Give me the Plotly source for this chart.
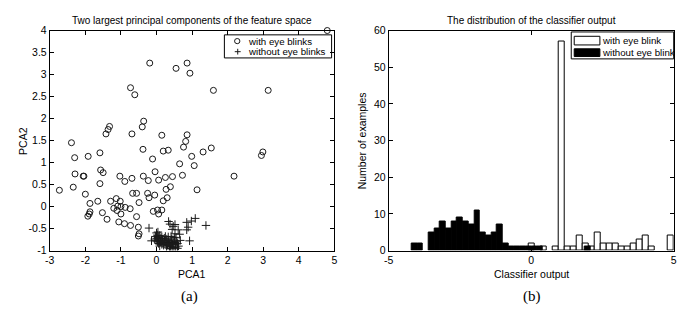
import plotly.graph_objects as go

# ---------------- data: PCA scatter ----------------
with_blink_x = [4.80, -0.19, 0.55, 0.86, 0.94, -0.73, -0.61, 1.60, 3.14, -0.36, -0.40, -1.32, -1.36,
                -1.42, -2.39, -0.69, 0.15, 0.86, 0.82, 0.76, -0.38, 0.19, 0.33, 0.99, 1.31, 1.54, 2.99,
                2.95, -2.30, -1.92, -1.59, -0.11,
                0.65, 1.06, 2.18, -2.29, -2.06, -2.04, -1.57, -1.50, -1.59, -1.03, -0.89, -0.69, -0.37,
                -0.23, -0.04, 0.06, 0.25, 0.45, 0.73, -2.73, -2.34, -2.00, 0.39, 0.27, 1.14, -0.67,
                -0.56, -0.25, -0.21, -0.05, 0.19, 0.30, -1.87, -1.65, -1.29, -1.13, -1.02, -0.49, -1.20,
                -1.09, -1.00, -0.88, -0.74, -1.11, -1.00, -1.87, -1.89, -1.93, -1.52, -1.39, -1.06,
                -0.90, -0.73, -0.56, -0.51, -0.49, -0.51, -0.09, 0.03, 0.06, 0.15]
with_blink_y = [4.00, 3.26, 3.14, 3.26, 3.03, 2.70, 2.54, 2.64, 2.64, 1.94, 1.81, 1.82, 1.75,
                1.65, 1.45, 1.65, 1.62, 1.63, 1.48, 1.35, 1.30, 1.26, 1.28, 1.14, 1.24, 1.33, 1.24,
                1.16, 1.11, 1.14, 1.22, 1.08,
                0.97, 0.93, 0.69, 0.74, 0.69, 0.69, 0.83, 0.77, 0.52, 0.69, 0.57, 0.64, 0.69,
                0.59, 0.79, 0.60, 0.66, 0.68, 0.71, 0.37, 0.44, 0.28, 0.45, 0.39, 0.38, 0.30,
                0.30, 0.30, 0.20, 0.26, 0.13, 0.20, 0.07, 0.12, 0.12, 0.18, 0.12, 0.09, -0.04,
                0.01, 0.00, -0.02, -0.05, -0.09, -0.17, -0.12, -0.17, -0.22, -0.14, -0.29, -0.35,
                -0.39, -0.43, -0.23, -0.47, -0.62, -0.67, -0.11, -0.08, -0.17, -0.08]

no_blink_x = [-0.21, 0.34, 0.38, 0.47, 0.44, 0.52, 0.61, 0.85, 0.98, 1.09, 0.89, 0.85, 1.39, 0.93,
              -0.14, 0.00, 0.04, 0.65, 0.67, 0.62, 0.59, 0.52,
              -0.03, 0.01, 0.05, 0.09, -0.01, 0.03, 0.07, 0.12, 0.15, 0.11, -0.05, 0.06, 0.17, 0.19,
              0.22, 0.24, 0.27, 0.29, 0.31, 0.33, 0.35, 0.37, 0.39, 0.41, 0.43, 0.45, 0.47, 0.49,
              0.51, 0.53, 0.55, 0.57, 0.28, 0.23, 0.15, 0.09, 0.33, 0.41, 0.50, 0.37, 0.44, 0.20,
              0.13, 0.25, 0.02, 0.30, 0.36, 0.42, 0.54, 0.59]
no_blink_y = [-0.49, -0.34, -0.40, -0.45, -0.52, -0.41, -0.53, -0.36, -0.33, -0.27, -0.47, -0.53, -0.43, -0.78,
              -0.78, -0.60, -0.58, -0.63, -0.77, -0.90, -0.95, -0.62,
              -0.68, -0.72, -0.70, -0.66, -0.78, -0.80, -0.76, -0.73, -0.69, -0.80, -0.74, -0.84, -0.77, -0.82,
              -0.72, -0.86, -0.79, -0.74, -0.88, -0.82, -0.77, -0.85, -0.91, -0.80, -0.74, -0.87, -0.82, -0.93,
              -0.78, -0.86, -0.71, -0.80, -0.92, -0.78, -0.86, -0.90, -0.69, -0.68, -0.70, -0.95, -0.96, -0.88,
              -0.79, -0.68, -0.65, -0.84, -0.89, -0.84, -0.92, -0.84]

pca_xticks = [-3, -2, -1, 0, 1, 2, 3, 4, 5]
pca_xticktext = ["-3", "-2", "-1", "0", "1", "2", "3", "4", "5"]
pca_yticks = [-1, -0.5, 0, 0.5, 1, 1.5, 2, 2.5, 3, 3.5, 4]
pca_yticktext = ["-1", "-0.5", "0", "0.5", "1", "1.5", "2", "2.5", "3", "3.5", "4"]

# ---------------- data: classifier output histogram ----------------
blink_centers = [0.03, 0.45, 0.87, 1.08, 1.29, 1.50, 1.71, 1.92, 2.13, 2.34, 2.55, 2.76, 2.97,
                 3.18, 3.39, 3.60, 3.81, 4.02, 4.23, 4.89]
blink_counts = [2, 1, 1, 57, 1, 1, 4, 2, 1, 5, 2, 2, 2, 1, 1, 2, 3, 4, 1, 4]

noblink_centers = [-4.1, -3.9, -3.5, -3.3, -3.1, -2.9, -2.7, -2.5, -2.3, -2.1, -1.9, -1.7, -1.5,
                   -1.3, -1.1, -0.9, -0.7, -0.5, -0.3, -0.1, 0.1, 0.3, 1.98]
noblink_counts = [2, 2, 5, 6, 8, 6, 8, 9, 8, 7, 11, 5, 4, 5, 7, 2, 1, 1, 1, 1, 1, 1, 1]

hist_xticks = [-5, 0, 5]
hist_xticktext = ["-5", "0", "5"]
hist_yticks = [0, 10, 20, 30, 40, 50, 60]

# ---------------- figure ----------------
W, H = 678, 312
FONT = "Arial, 'Liberation Sans', Helvetica, sans-serif"
SERIF = "'Times New Roman', 'Liberation Serif', serif"


def fx(p):
    return p / W


def fy(p):
    return 1 - p / H


fig = go.Figure()

fig.add_trace(go.Scatter(
    x=with_blink_x, y=with_blink_y, mode="markers", name="with eye blinks",
    marker=dict(symbol="circle-open", size=6, color="#1a1a1a", line=dict(width=1, color="#1a1a1a")),
    xaxis="x", yaxis="y", showlegend=False, cliponaxis=False))
fig.add_trace(go.Scatter(
    x=no_blink_x, y=no_blink_y, mode="markers", name="without eye blinks",
    marker=dict(symbol="cross-thin-open", size=6, color="#1a1a1a", line=dict(width=1, color="#1a1a1a")),
    xaxis="x", yaxis="y", showlegend=False))

fig.add_trace(go.Bar(
    x=blink_centers, y=blink_counts, width=0.21, name="with eye blink",
    marker=dict(color="white", line=dict(color="black", width=1)),
    xaxis="x2", yaxis="y2", showlegend=False))
fig.add_trace(go.Bar(
    x=noblink_centers, y=noblink_counts, width=0.2, name="without eye blink",
    marker=dict(color="black", line=dict(color="black", width=1)),
    xaxis="x2", yaxis="y2", showlegend=False))

axis_common = dict(showline=True, linecolor="black", linewidth=1, mirror="ticks", ticks="inside",
                   ticklen=4, tickwidth=1, tickcolor="black", showgrid=False, zeroline=False,
                   tickfont=dict(family=FONT, size=10.5, color="black"))

y_dom = [fy(254.3), fy(25.5)]

fig.update_layout(
    width=W, height=H, autosize=False,
    margin=dict(l=0, r=0, t=0, b=0),
    paper_bgcolor="white", plot_bgcolor="white",
    barmode="overlay", bargap=0,
    font=dict(family=FONT, size=10.5, color="black"),
    xaxis=dict(domain=[fx(45.3), fx(333.3)], range=[-3, 5], tickvals=pca_xticks,
               ticktext=pca_xticktext, anchor="y", **axis_common),
    yaxis=dict(domain=y_dom, range=[-1, 4], tickvals=pca_yticks, ticktext=pca_yticktext,
               anchor="x", **axis_common),
    xaxis2=dict(domain=[fx(388.3), fx(676.7)], range=[-5, 5], tickvals=hist_xticks,
                ticktext=hist_xticktext, anchor="y2", **axis_common),
    yaxis2=dict(domain=y_dom, range=[0, 60], tickvals=hist_yticks, anchor="x2", **axis_common),
)

annotations = [
    dict(text="Two largest principal components of the feature space", x=fx(189.3), y=fy(15),
         font=dict(size=10)),
    dict(text="The distribution of the classifier output", x=fx(532.5), y=fy(15), font=dict(size=10)),
    dict(text="PCA1", x=fx(189.3), y=fy(279), font=dict(size=10.5)),
    dict(text="PCA2", x=fx(17.5), y=fy(140), textangle=-90, font=dict(size=10.5)),
    dict(text="Classifier output", x=fx(532.5), y=fy(279), font=dict(size=10.5)),
    dict(text="Number of examples", x=fx(361), y=fy(140), textangle=-90, font=dict(size=10.5)),
    dict(text="(a)", x=fx(187), y=fy(302), font=dict(family=SERIF, size=15)),
    dict(text="(b)", x=fx(533), y=fy(302), font=dict(family=SERIF, size=15)),
    # scatter legend text
    dict(text="with eye blinks", x=fx(244), y=fy(36.5), xanchor="left", font=dict(size=9.7)),
    dict(text="without eye blinks", x=fx(244), y=fy(47.5), xanchor="left", font=dict(size=9.7)),
    # histogram legend text
    dict(text="with eye blink", x=fx(602.5), y=fy(35.5), xanchor="left", font=dict(size=9.7)),
    dict(text="without eye blink", x=fx(602.5), y=fy(48), xanchor="left", font=dict(size=9.7)),
]
for a in annotations:
    a.setdefault("xref", "paper")
    a.setdefault("yref", "paper")
    a.setdefault("showarrow", False)
    a.setdefault("xanchor", "center")
    a.setdefault("yanchor", "middle")
fig.update_layout(annotations=annotations)

shapes = [
    # scatter legend box
    dict(type="rect", x0=fx(222), x1=fx(330.5), y0=fy(54), y1=fy(30),
         line=dict(color="black", width=1), fillcolor="white", layer="below"),
    dict(type="circle", x0=fx(232.3), x1=fx(237.7), y0=fy(39.2), y1=fy(33.8),
         line=dict(color="#1a1a1a", width=1)),
    dict(type="line", x0=fx(232.5), x1=fx(238.5), y0=fy(47.5), y1=fy(47.5),
         line=dict(color="#1a1a1a", width=1)),
    dict(type="line", x0=fx(235.5), x1=fx(235.5), y0=fy(44.5), y1=fy(50.5),
         line=dict(color="#1a1a1a", width=1)),
    # histogram legend box
    dict(type="rect", x0=fx(573), x1=fx(676.7), y0=fy(55), y1=fy(27),
         line=dict(color="black", width=1), fillcolor="white", layer="below"),
    dict(type="rect", x0=fx(576), x1=fx(602), y0=fy(40.5), y1=fy(31.5),
         line=dict(color="black", width=1), fillcolor="white"),
    dict(type="rect", x0=fx(576), x1=fx(602), y0=fy(52.5), y1=fy(44.5),
         line=dict(color="black", width=1), fillcolor="black"),
]
for s in shapes:
    s["xref"] = "paper"
    s["yref"] = "paper"
fig.update_layout(shapes=shapes)

fig.write_html("out.html", config={"displayModeBar": False},
               post_script="document.body.style.margin='0px';document.body.style.padding='0px';")
